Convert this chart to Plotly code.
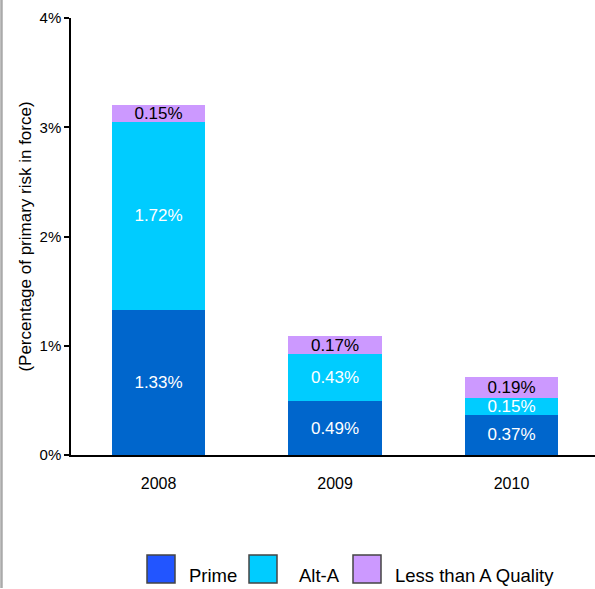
import plotly.graph_objects as go

years = ["2008", "2009", "2010"]
prime = [1.33, 0.49, 0.37]
alt_a = [1.72, 0.43, 0.15]
less_a = [0.15, 0.17, 0.19]
series_names = ["Prime", "Alt-A", "Less than A Quality"]
y_ticks = [0, 1, 2, 3, 4]
y_tick_labels = ["0%", "1%", "2%", "3%", "4%"]

bar_colors = ["#0066CC", "#00CCFF", "#CC99FF"]
legend_colors = ["#2255FF", "#00CCFF", "#CC99FF"]
label_colors = ["white", "white", "black"]

NARROW = "Liberation Sans Narrow, Arial Narrow, Liberation Sans, Arial, sans-serif"
REG = "Liberation Sans, Arial, sans-serif"

W, H = 595, 589
L, R, T, B = 71, 595, 18, 455
pw, ph = R - L, B - T

def px(x):
    return (x - L) / pw

def py(y):
    return (B - y) / ph

fig = go.Figure()
for name, vals, col, lc in zip(series_names, [prime, alt_a, less_a], bar_colors, label_colors):
    fig.add_trace(go.Bar(
        x=years, y=vals, name=name,
        marker=dict(color=col, line=dict(width=0)),
        text=[f"{v:.2f}%" for v in vals],
        textposition="inside", insidetextanchor="middle",
        constraintext="none",
        textfont=dict(family=NARROW, size=17, color=lc),
        showlegend=False,
    ))

fig.update_layout(
    barmode="stack",
    bargap=0.47,
    width=W, height=H,
    margin=dict(l=L, r=W - R, t=T, b=H - B),
    plot_bgcolor="white", paper_bgcolor="white",
    xaxis=dict(
        range=[-0.496, 2.473],
        showline=True, linecolor="black", linewidth=2,
        ticks="", showgrid=False, zeroline=False,
        tickfont=dict(family=NARROW, size=16, color="black"),
        ticklabelstandoff=13,
    ),
    yaxis=dict(
        range=[0, 4],
        tickvals=y_ticks, ticktext=y_tick_labels,
        showline=True, linecolor="black", linewidth=1.5,
        ticks="outside", ticklen=5, tickcolor="black", tickwidth=1.5,
        showgrid=False, zeroline=False,
        tickfont=dict(family=NARROW, size=15, color="black"),
        title=dict(text="(Percentage of primary risk in force)",
                   font=dict(family=REG, size=17, color="black"),
                   standoff=4),
    ),
)

# left grey border line
fig.add_shape(type="line", xref="paper", yref="paper",
              x0=px(1.5), x1=px(1.5), y0=py(0), y1=py(588),
              line=dict(color="#AAAAAA", width=2.5), layer="above")

# custom legend
swatch_left = [147, 249, 353]
text_left = [187, 297, 393]
sw_top, sw_bot = 555, 583
for name, col, sx, tx in zip(series_names, legend_colors, swatch_left, text_left):
    fig.add_shape(type="rect", xref="paper", yref="paper",
                  x0=px(sx), x1=px(sx + 28), y0=py(sw_bot), y1=py(sw_top),
                  fillcolor=col, line=dict(color="#444444", width=1.5))
    fig.add_annotation(xref="paper", yref="paper", x=px(tx), y=py(575),
                       text=name, showarrow=False, xanchor="left", yanchor="middle",
                       font=dict(family=REG, size=18.5, color="black"))

fig.write_html("out.html")
